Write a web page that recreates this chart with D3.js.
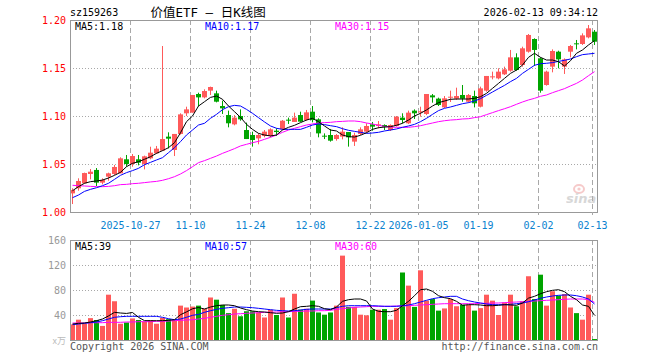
<!DOCTYPE html>
<html><head><meta charset="utf-8">
<script src="https://cdn.jsdelivr.net/npm/d3@7"></script>
<style>
html,body{margin:0;padding:0;background:#fff;}
svg{display:block;}
text{font-family:"DejaVu Sans Mono",monospace;font-size:10px;}
</style></head>
<body>
<svg id="c" width="660" height="360"></svg>
<script>
const dates = ["2025-10-13","2025-10-14","2025-10-15","2025-10-16","2025-10-17","2025-10-20","2025-10-21","2025-10-22","2025-10-23","2025-10-24",
"2025-10-27","2025-10-28","2025-10-29","2025-10-30","2025-10-31","2025-11-03","2025-11-04","2025-11-05","2025-11-06","2025-11-07",
"2025-11-10","2025-11-11","2025-11-12","2025-11-13","2025-11-14","2025-11-17","2025-11-18","2025-11-19","2025-11-20","2025-11-21",
"2025-11-24","2025-11-25","2025-11-26","2025-11-27","2025-11-28","2025-12-01","2025-12-02","2025-12-03","2025-12-04","2025-12-05",
"2025-12-08","2025-12-09","2025-12-10","2025-12-11","2025-12-12","2025-12-15","2025-12-16","2025-12-17","2025-12-18","2025-12-19",
"2025-12-22","2025-12-23","2025-12-24","2025-12-25","2025-12-26","2025-12-29","2025-12-30","2025-12-31","2026-01-05","2026-01-06",
"2026-01-07","2026-01-08","2026-01-09","2026-01-12","2026-01-13","2026-01-14","2026-01-15","2026-01-16","2026-01-19","2026-01-20",
"2026-01-21","2026-01-22","2026-01-23","2026-01-26","2026-01-27","2026-01-28","2026-01-29","2026-01-30","2026-02-02","2026-02-03",
"2026-02-04","2026-02-05","2026-02-06","2026-02-09","2026-02-10","2026-02-11","2026-02-12","2026-02-13"];

const open = [1.0194,1.0247,1.0299,1.0396,1.0438,1.0306,1.0368,1.0396,1.0403,1.0549,
1.0500,1.0549,1.0500,1.0559,1.0611,1.0639,1.0785,1.0646,1.0813,1.1028,
1.1035,1.1229,1.1194,1.1264,1.1236,1.1104,1.1010,1.0913,1.1000,1.0854,
1.0802,1.0767,1.0792,1.0792,1.0847,1.0861,1.0962,1.0938,1.1010,1.0958,
1.1045,1.0965,1.0795,1.0802,1.0760,1.0785,1.0833,1.0733,1.0813,1.0837,
1.0913,1.0896,1.0906,1.0854,1.0896,1.0983,1.0924,1.1056,1.1038,1.1021,
1.1215,1.1181,1.1090,1.1194,1.1181,1.1219,1.1149,1.1208,1.1097,1.1264,
1.1403,1.1392,1.1434,1.1472,1.1611,1.1531,1.1670,1.1802,1.1601,1.1323,
1.1514,1.1670,1.1514,1.1670,1.1757,1.1750,1.1819,1.1878];
const high = [1.0247,1.0351,1.0410,1.0448,1.0458,1.0351,1.0410,1.0490,1.0570,1.0594,
1.0604,1.0594,1.0587,1.0680,1.0688,1.1729,1.0830,1.0813,1.1028,1.1097,
1.1219,1.1243,1.1278,1.1306,1.1264,1.1160,1.1056,1.1010,1.1069,1.0931,
1.0837,1.0819,1.0854,1.0872,1.0872,1.0958,1.0983,1.1035,1.1045,1.1063,
1.1104,1.0976,1.0819,1.0865,1.0812,1.0882,1.0833,1.0826,1.0882,1.0924,
1.0938,1.0948,1.0913,1.0913,1.1000,1.1028,1.1056,1.1069,1.1097,1.1229,
1.1229,1.1191,1.1208,1.1264,1.1295,1.1323,1.1229,1.1264,1.1306,1.1417,
1.1462,1.1497,1.1514,1.1688,1.1653,1.1722,1.1854,1.1809,1.1611,1.1472,
1.1694,1.1680,1.1600,1.1740,1.1792,1.1861,1.1948,1.1896];
const low = [1.0083,1.0222,1.0295,1.0340,1.0271,1.0288,1.0326,1.0385,1.0403,1.0472,
1.0472,1.0486,1.0444,1.0549,1.0604,1.0639,1.0663,1.0583,1.0806,1.1000,
1.1035,1.1104,1.1184,1.1219,1.1142,1.1021,1.0882,1.0903,1.0951,1.0760,
1.0681,1.0705,1.0778,1.0778,1.0792,1.0854,1.0917,1.0938,1.0938,1.0951,
1.0934,1.0778,1.0760,1.0733,1.0743,1.0757,1.0681,1.0688,1.0802,1.0826,
1.0847,1.0872,1.0854,1.0844,1.0889,1.0924,1.0917,1.0969,1.0993,1.1010,
1.1139,1.1104,1.1083,1.1146,1.1167,1.1149,1.1139,1.1090,1.1090,1.1253,
1.1382,1.1382,1.1427,1.1462,1.1472,1.1514,1.1660,1.1521,1.1243,1.1316,
1.1455,1.1497,1.1438,1.1611,1.1694,1.1740,1.1809,1.1740];
const close = [1.0229,1.0323,1.0406,1.0420,1.0306,1.0333,1.0403,1.0469,1.0559,1.0500,
1.0583,1.0514,1.0580,1.0618,1.0660,1.0760,1.0764,1.0813,1.1017,1.1069,
1.1219,1.1194,1.1260,1.1302,1.1149,1.1080,1.0924,1.0983,1.0965,1.0760,
1.0750,1.0802,1.0837,1.0861,1.0833,1.0951,1.0951,1.0983,1.0941,1.1038,
1.0958,1.0819,1.0788,1.0743,1.0802,1.0837,1.0778,1.0802,1.0861,1.0896,
1.0889,1.0913,1.0889,1.0906,1.0993,1.0958,1.1035,1.1028,1.1049,1.1229,
1.1194,1.1115,1.1184,1.1201,1.1208,1.1181,1.1219,1.1132,1.1288,1.1417,
1.1413,1.1462,1.1486,1.1611,1.1479,1.1705,1.1844,1.1688,1.1264,1.1462,
1.1677,1.1590,1.1590,1.1729,1.1750,1.1840,1.1913,1.1774];

const ma5 = [1.0222,1.0264,1.0299,1.0316,1.0323,1.0333,1.0354,1.0382,1.0413,1.0472,
1.0507,1.0524,1.0549,1.0576,1.0611,1.0639,1.0670,1.0722,1.0826,1.0941,
1.1000,1.1104,1.1149,1.1194,1.1208,1.1174,1.1104,1.1045,1.0986,1.0913,
1.0861,1.0819,1.0802,1.0792,1.0802,1.0854,1.0882,1.0903,1.0931,1.0958,
1.0976,1.0941,1.0896,1.0854,1.0844,1.0802,1.0785,1.0781,1.0799,1.0826,
1.0861,1.0878,1.0885,1.0889,1.0903,1.0924,1.0958,1.1000,1.1028,1.1063,
1.1104,1.1139,1.1156,1.1174,1.1177,1.1177,1.1177,1.1184,1.1201,1.1236,
1.1288,1.1340,1.1392,1.1444,1.1479,1.1531,1.1611,1.1653,1.1611,1.1583,
1.1583,1.1566,1.1521,1.1576,1.1653,1.1688,1.1740,1.1785];
const ma10 = [1.0149,1.0177,1.0215,1.0236,1.0253,1.0274,1.0299,1.0340,1.0382,1.0410,
1.0431,1.0455,1.0493,1.0517,1.0542,1.0566,1.0618,1.0670,1.0733,1.0802,
1.0854,1.0906,1.0924,1.0976,1.1017,1.1066,1.1097,1.1111,1.1104,1.1069,
1.1028,1.0983,1.0938,1.0896,1.0872,1.0861,1.0861,1.0861,1.0861,1.0882,
1.0906,1.0917,1.0910,1.0899,1.0889,1.0868,1.0851,1.0840,1.0830,1.0819,
1.0823,1.0830,1.0844,1.0854,1.0865,1.0882,1.0896,1.0913,1.0941,1.0976,
1.1017,1.1056,1.1080,1.1094,1.1111,1.1128,1.1139,1.1156,1.1181,1.1215,
1.1250,1.1285,1.1319,1.1358,1.1392,1.1444,1.1486,1.1528,1.1545,1.1549,
1.1556,1.1569,1.1580,1.1594,1.1618,1.1639,1.1646,1.1653];
const ma30 = [1.0278,1.0274,1.0271,1.0267,1.0264,1.0264,1.0267,1.0274,1.0285,1.0288,
1.0295,1.0299,1.0306,1.0313,1.0319,1.0330,1.0347,1.0368,1.0396,1.0431,
1.0472,1.0514,1.0535,1.0559,1.0583,1.0611,1.0635,1.0660,1.0688,1.0705,
1.0722,1.0736,1.0757,1.0778,1.0802,1.0830,1.0854,1.0872,1.0889,1.0906,
1.0917,1.0927,1.0931,1.0934,1.0941,1.0944,1.0948,1.0948,1.0941,1.0927,
1.0917,1.0903,1.0892,1.0885,1.0882,1.0882,1.0882,1.0889,1.0899,1.0913,
1.0927,1.0941,1.0951,1.0958,1.0962,1.0969,1.0972,1.0983,1.0993,1.1014,
1.1035,1.1056,1.1076,1.1097,1.1122,1.1146,1.1167,1.1184,1.1205,1.1219,
1.1243,1.1264,1.1285,1.1313,1.1340,1.1375,1.1420,1.1462];

const volume = [25,32.5,26,35,32,22.5,72.5,62,26,28,
34.5,32,29.5,31.5,26,35.5,33.3,32,55,52,
53.5,55,50,68,64.5,56,43,50,38,46,
46,44,36,48.5,40,68,36,74,48.5,50,
63,44,40.5,44,55,135,53,53,40.5,39.5,
48.5,48.5,49.5,32.5,51,108,87,53,111.5,63,
65.5,47,50.5,65.5,54,56.5,56.5,47,51,72.5,
63,40,60,72.5,54,62,102,65.5,104.5,55,
78,71,73.5,52,43,32.5,72.5,1.6];
const volMa5 = [25.6,26.7,27.2,28.8,30.9,33.6,38.5,44.3,43.2,42.5,
44,36.3,31,30.9,30.9,30.9,31.5,32.5,40.5,45,
50,52,49.6,52.8,54.9,56,56,54.9,51.2,48.5,
46.4,45.3,44.8,43.7,42.7,43.2,45.3,49.6,53.3,53.9,
54.9,53.9,50.1,48.5,52.8,61.9,64.5,65.6,65.6,62.5,
49.6,45.9,45.3,45.3,47.5,54.9,61.9,70.9,80.5,81.6,
77.9,70.9,67.7,66.1,61.9,55.5,56.5,56.5,56,54.9,
54.9,55.5,56.5,56,55.5,59.2,67,69.9,74.1,77.3,
79.5,80.5,77.3,69.9,64.5,56,53.9,39.5];
const volMa10 = [24.5,25.6,26.7,27.7,28.8,30.9,33.6,36.3,37.3,37.9,
37.9,37.9,37.9,37.9,37.9,36.3,34.1,32.5,33.6,36.3,
39.5,41,44.3,46.9,49.1,50.7,51.7,52.8,52.8,52.3,
51.7,50.7,49.6,48.5,47.5,46.9,46.4,46.9,48,49.1,
49.6,49.6,49.6,49.6,51.7,53.9,54.9,54.9,54.9,54.9,
54.9,54.4,53.9,53.9,53.9,54.9,56,58.1,60.8,63.5,
66.1,67.7,68.8,69.9,69.9,65.6,62.9,60.8,59.2,57.6,
56.5,56.5,56.5,57.1,58.1,59.2,61.3,64,66.7,68.8,
70.4,71.5,72,72,70.9,68.8,65.6,57.6];
const volMa30 = [27.2,27.2,27.2,27.7,27.7,27.7,28.3,28.3,28.3,28.8,
28.8,29.3,29.3,29.3,29.9,29.9,30.4,30.9,31.5,32,
32.5,33.6,34.7,36.3,37.9,39.5,40.5,41.6,42.1,42.7,
43.2,43.7,44.3,44.3,44.8,45.3,45.3,45.9,45.9,46.4,
46.4,46.9,46.9,47.5,49.1,50.1,51.2,52.3,52.8,53.3,
53.9,53.9,53.9,53.9,54.4,54.4,54.9,55.5,56,56.5,
57.1,57.6,58.1,58.1,58.1,58.1,58.1,58.1,58.7,58.7,
59.2,59.2,59.7,60.3,60.8,61.3,61.9,62.4,62.9,63.5,
64,64.5,65.1,65.6,65.6,65.6,64.5,60.3];

const priceTicks = [1.00, 1.05, 1.10, 1.15, 1.20];
const priceTickLabels = ["1.00","1.05","1.10","1.15","1.20"];
const volTicks = [40, 80, 120, 160];
const volTickLabels = ["40","80","120","160"];
const axisDates = ["2025-10-27","2025-11-10","2025-11-24","2025-12-08","2025-12-22","2026-01-05","2026-01-19","2026-02-02","2026-02-13"];
const axisLabels = ["2025-10-27","11-10","11-24","12-08","12-22","2026-01-05","01-19","02-02","02-13"];

const code = "sz159263";
const title = "价值ETF — 日K线图";
const stamp = "2026-02-13 09:34:12";
const ma5Label = "MA5:1.18", ma10Label = "MA10:1.17", ma30Label = "MA30:1.15";
const vma5Label = "MA5:39", vma10Label = "MA10:57", vma30Label = "MA30:60";

const RED = "#ff5a5a", GREEN = "#00a400", GRID = "#a8a8a8";
const svg = d3.select("#c");
const L = 70, R = 598, PT = 20, PB = 212, VT = 240, VB = 340;

const xi = d3.scaleLinear().domain([0, dates.length]).range([L, R]);
const y = d3.scaleLinear().domain([1.0, 1.2]).range([PB, PT]);
const yv = d3.scaleLinear().domain([0, 160]).range([VB, VT]);
const idx = dates.map((d, i) => i);
const isUp = i => close[i] >= open[i];

// header
svg.append("text").attr("x", L).attr("y", 16).attr("fill", "#000").text(code);
svg.append("text").attr("x", 150.5).attr("y", 16.5).attr("fill", "#000")
  .style("font-family", "'DejaVu Sans Mono','Noto Sans CJK SC',monospace").style("font-size", "12.5px").text(title);
svg.append("text").attr("x", R).attr("y", 16).attr("text-anchor", "end").attr("fill", "#000").text(stamp);

// gridlines
const vlineIdx = axisDates.map(d => dates.indexOf(d));
function vgrid(top, bot) {
  svg.append("g").selectAll("line").data(vlineIdx).join("line")
    .attr("x1", i => Math.round(xi(i)) + 0.5).attr("x2", i => Math.round(xi(i)) + 0.5)
    .attr("y1", top).attr("y2", bot).attr("stroke", GRID).attr("stroke-dasharray", "5,3");
}
vgrid(PT, PB); vgrid(VT, VB);
svg.append("g").selectAll("line").data(priceTicks.slice(1, 4)).join("line")
  .attr("x1", L).attr("x2", R).attr("y1", d => Math.round(y(d)) + 0.5).attr("y2", d => Math.round(y(d)) + 0.5)
  .attr("stroke", GRID).attr("stroke-dasharray", "1,2");
svg.append("g").selectAll("line").data(volTicks.slice(0, 3)).join("line")
  .attr("x1", L).attr("x2", R).attr("y1", d => Math.round(yv(d)) + 0.5).attr("y2", d => Math.round(yv(d)) + 0.5)
  .attr("stroke", GRID).attr("stroke-dasharray", "1,2");

// watermark
const wm = svg.append("g").attr("opacity", 0.55);
wm.append("ellipse").attr("cx", 579).attr("cy", 189).attr("rx", 5).attr("ry", 4).attr("fill", "none").attr("stroke", "#f0a0a0").attr("stroke-width", 2);
wm.append("circle").attr("cx", 579).attr("cy", 189).attr("r", 1.6).attr("fill", "#f0a0a0");
wm.append("text").attr("x", 566).attr("y", 203).attr("fill", "#b8b8b8")
  .style("font-family", "'DejaVu Sans',sans-serif").style("font-size", "13px").style("font-style", "italic").style("font-weight", "bold").text("sina");

// y labels
svg.append("g").selectAll("text").data(priceTicks).join("text")
  .attr("x", 66).attr("y", d => y(d) + 4).attr("text-anchor", "end").attr("fill", "#ff0000")
  .text((d, i) => priceTickLabels[i]);
svg.append("g").selectAll("text").data(volTicks).join("text")
  .attr("x", 66).attr("y", d => yv(d) + 3.5).attr("text-anchor", "end").attr("fill", "#999")
  .text((d, i) => volTickLabels[i]);
svg.append("text").attr("x", 66).attr("y", 344).attr("text-anchor", "end").attr("fill", "#bbb")
  .style("font-family", "'Noto Sans CJK SC',sans-serif").style("font-size", "9px").text("x万");

// candles
const cg = svg.append("g");
cg.selectAll("rect.w").data(idx).join("rect").attr("class", "w")
  .attr("x", i => Math.round(xi(i)) + 2).attr("width", 1)
  .attr("y", i => y(high[i])).attr("height", i => Math.max(1, y(low[i]) - y(high[i])))
  .attr("fill", i => isUp(i) ? RED : GREEN);
cg.selectAll("rect.b").data(idx).join("rect").attr("class", "b")
  .attr("x", i => Math.round(xi(i))).attr("width", 5)
  .attr("y", i => y(Math.max(open[i], close[i])))
  .attr("height", i => Math.max(1, Math.abs(y(open[i]) - y(close[i]))))
  .attr("fill", i => isUp(i) ? RED : GREEN);

// volume bars
svg.append("g").selectAll("rect").data(idx).join("rect")
  .attr("x", i => Math.round(xi(i))).attr("width", 5)
  .attr("y", i => yv(volume[i])).attr("height", i => VB - yv(volume[i]))
  .attr("fill", i => isUp(i) ? RED : GREEN);

// MA lines
const cx = i => Math.round(xi(i)) + 2.5;
function maLine(arr, sc, color) {
  svg.append("path").datum(idx)
    .attr("d", d3.line().x(cx).y(i => sc(arr[i])))
    .attr("fill", "none").attr("stroke", color).attr("stroke-width", 1);
}
maLine(ma30, y, "#ff00ff"); maLine(ma10, y, "#0000ff"); maLine(ma5, y, "#000");
maLine(volMa30, yv, "#ff00ff"); maLine(volMa10, yv, "#0000ff"); maLine(volMa5, yv, "#000");

// frames
svg.append("rect").attr("x", L + 0.5).attr("y", PT + 0.5).attr("width", R - L - 1).attr("height", PB - PT)
  .attr("fill", "none").attr("stroke", "#999");
svg.append("rect").attr("x", L + 0.5).attr("y", VT + 0.5).attr("width", R - L - 1).attr("height", VB - VT)
  .attr("fill", "none").attr("stroke", "#999");

// x axis
const ax = svg.append("g").attr("transform", `translate(0,${PB})`)
  .call(d3.axisBottom(xi).tickValues(vlineIdx).tickSize(3).tickPadding(7)
    .tickFormat((d, k) => axisLabels[k]));
ax.select(".domain").remove();
ax.selectAll("line").attr("stroke", GRID);
ax.selectAll("text").attr("fill", "#0a82cf").style("font-family", "'DejaVu Sans Mono',monospace").style("font-size", "10px");

// legends
svg.append("text").attr("x", 75).attr("y", 29.5).attr("fill", "#000").text(ma5Label);
svg.append("text").attr("x", 205).attr("y", 29.5).attr("fill", "#0000ff").text(ma10Label);
svg.append("text").attr("x", 335).attr("y", 29.5).attr("fill", "#ff00ff").text(ma30Label);
svg.append("text").attr("x", 75).attr("y", 249.5).attr("fill", "#000").text(vma5Label);
svg.append("text").attr("x", 205).attr("y", 249.5).attr("fill", "#0000ff").text(vma10Label);
svg.append("text").attr("x", 335).attr("y", 249.5).attr("fill", "#ff00ff").text(vma30Label);

// footer
svg.append("text").attr("x", L).attr("y", 350).attr("fill", "#555").text("Copyright 2026 SINA.COM");
svg.append("text").attr("x", R).attr("y", 350).attr("text-anchor", "end").attr("fill", "#555").text("http://finance.sina.com.cn");
</script>
</body></html>
